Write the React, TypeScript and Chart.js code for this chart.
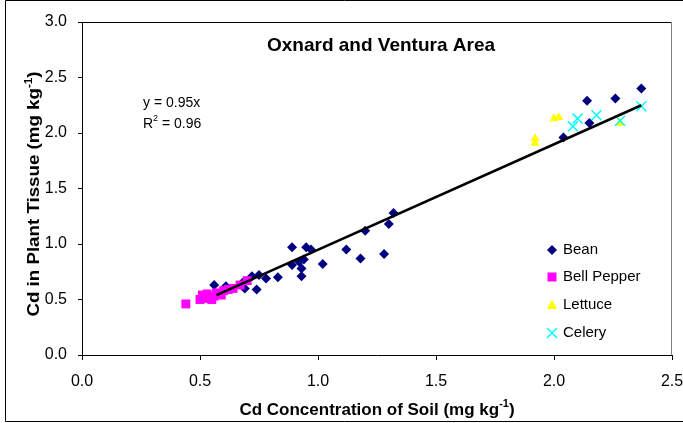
import React, { useEffect, useRef } from 'react';
import { Chart, registerables } from 'chart.js';

Chart.register(...registerables);

// ---- data ----
const beanX = [0.56, 0.61, 0.68, 0.69, 0.72, 0.74, 0.75, 0.78, 0.83, 0.89, 0.89, 0.92, 0.93, 0.93, 0.94, 0.95, 0.97, 1.02, 1.12, 1.18, 1.20, 1.28, 1.30, 1.32, 2.04, 2.14, 2.15, 2.26, 2.37];
const beanY = [0.63, 0.62, 0.65, 0.60, 0.71, 0.59, 0.72, 0.69, 0.70, 0.81, 0.97, 0.84, 0.71, 0.78, 0.86, 0.97, 0.95, 0.82, 0.95, 0.87, 1.12, 0.91, 1.18, 1.28, 1.96, 2.29, 2.09, 2.31, 2.40];

const pepperX = [0.44, 0.50, 0.51, 0.52, 0.53, 0.53, 0.55, 0.56, 0.57, 0.59, 0.60, 0.62, 0.64, 0.67, 0.70];
const pepperY = [0.46, 0.50, 0.54, 0.51, 0.55, 0.52, 0.50, 0.53, 0.56, 0.54, 0.58, 0.59, 0.60, 0.63, 0.67];

const lettuceX = [1.92, 1.92, 2.00, 2.02, 2.28];
const lettuceY = [1.91, 1.95, 2.13, 2.14, 2.09];

const celeryX = [2.08, 2.10, 2.18, 2.28, 2.37];
const celeryY = [2.06, 2.13, 2.16, 2.11, 2.24];

const trendX = [0.57, 2.37];
const trendY = [0.54, 2.25];

const xTickValues = [0, 0.5, 1.0, 1.5, 2.0, 2.5];
const yTickValues = [0, 0.5, 1.0, 1.5, 2.0, 2.5, 3.0];

const seriesNames = ['Bean', 'Bell Pepper', 'Lettuce', 'Celery'];
const chartTitle = 'Oxnard and Ventura Area';
const eqLine = 'y = 0.95x';
const r2Value = '0.96';

const FONT = '"Liberation Sans", Arial, sans-serif';

const pts = (xs: number[], ys: number[]) => xs.map((x, i) => ({ x, y: ys[i] }));

function drawWithSup(ctx: CanvasRenderingContext2D, parts: { t: string; sup?: boolean }[], cx: number, cy: number, size: number, bold: boolean, align: 'center' | 'left', stretch = 1) {
  const w = bold ? 'bold ' : '';
  const supSize = Math.round(size * 0.65);
  const widths = parts.map(p => {
    ctx.font = `${w}${p.sup ? supSize : size}px ${FONT}`;
    return ctx.measureText(p.t).width;
  });
  const total = widths.reduce((a, b) => a + b, 0);
  ctx.save();
  ctx.translate(cx, cy);
  ctx.scale(stretch, 1);
  let x = align === 'center' ? -total / 2 : 0;
  ctx.textBaseline = 'middle';
  ctx.textAlign = 'left';
  ctx.fillStyle = '#000';
  parts.forEach((p, i) => {
    ctx.font = `${w}${p.sup ? supSize : size}px ${FONT}`;
    ctx.fillText(p.t, x, p.sup ? -size * 0.38 : 0);
    x += widths[i];
  });
  ctx.restore();
  return total;
}

const overlay = {
  id: 'overlay',
  afterDraw(chart: any) {
    const ctx: CanvasRenderingContext2D = chart.ctx;
    const { left, right, top, bottom } = chart.chartArea;
    ctx.save();
    // outer border
    ctx.strokeStyle = '#000';
    ctx.lineWidth = 1;
    ctx.beginPath();
    ctx.moveTo(5.5, 421.5);
    ctx.lineTo(5.5, 0.5);
    ctx.lineTo(683, 0.5);
    ctx.moveTo(5.5, 421.5);
    ctx.lineTo(683, 421.5);
    ctx.stroke();
    // plot frame
    ctx.beginPath();
    ctx.moveTo(left, top + 0.5);
    ctx.lineTo(right, top + 0.5);
    ctx.stroke();
    ctx.strokeStyle = '#808080';
    ctx.beginPath();
    ctx.moveTo(right - 0.5, top);
    ctx.lineTo(right - 0.5, bottom);
    ctx.stroke();

    // title
    ctx.fillStyle = '#000';
    ctx.font = `bold 19px ${FONT}`;
    ctx.textAlign = 'center';
    ctx.textBaseline = 'middle';
    ctx.fillText(chartTitle, 381, 46);

    // equation
    ctx.font = `14px ${FONT}`;
    ctx.textAlign = 'left';
    ctx.fillText(eqLine, 143, 103);
    drawWithSup(ctx, [{ t: 'R' }, { t: '2', sup: true }, { t: ' = ' + r2Value }], 143, 124, 14, false, 'left');

    // x axis title
    drawWithSup(ctx, [{ t: 'Cd Concentration of Soil (mg kg' }, { t: '-1', sup: true }, { t: ')' }], 377, 410, 17, true, 'center');

    // y axis title
    ctx.save();
    ctx.translate(35, 194);
    ctx.rotate(-Math.PI / 2);
    drawWithSup(ctx, [{ t: 'Cd in Plant Tissue (mg kg' }, { t: '-1', sup: true }, { t: ')' }], 0, 0, 16, true, 'center', 1.17);
    ctx.restore();

    // legend
    const lx = 552;
    const rows = [250, 277, 305, 333];
    ctx.fillStyle = '#000080';
    ctx.beginPath();
    ctx.moveTo(lx - 5, rows[0]);
    ctx.lineTo(lx, rows[0] - 5);
    ctx.lineTo(lx + 5, rows[0]);
    ctx.lineTo(lx, rows[0] + 5);
    ctx.closePath();
    ctx.fill();
    ctx.fillStyle = '#FF00FF';
    ctx.fillRect(lx - 4.5, rows[1] - 4.5, 9, 9);
    ctx.fillStyle = '#FFFF00';
    ctx.beginPath();
    ctx.moveTo(lx, rows[2] - 5.5);
    ctx.lineTo(lx + 5, rows[2] + 4);
    ctx.lineTo(lx - 5, rows[2] + 4);
    ctx.closePath();
    ctx.fill();
    ctx.strokeStyle = '#00FFFF';
    ctx.lineWidth = 1.5;
    ctx.beginPath();
    ctx.moveTo(lx - 5, rows[3] - 5);
    ctx.lineTo(lx + 5, rows[3] + 5);
    ctx.moveTo(lx + 5, rows[3] - 5);
    ctx.lineTo(lx - 5, rows[3] + 5);
    ctx.stroke();

    ctx.fillStyle = '#000';
    ctx.font = `15px ${FONT}`;
    ctx.textAlign = 'left';
    ctx.textBaseline = 'middle';
    seriesNames.forEach((n, i) => ctx.fillText(n, 563, rows[i]));
    ctx.restore();
  },
};

export default function App() {
  const ref = useRef<HTMLCanvasElement | null>(null);
  useEffect(() => {
    if (!ref.current) return;
    const chart = new Chart(ref.current, {
      type: 'scatter',
      data: {
        datasets: [
          {
            label: 'Trend',
            data: pts(trendX, trendY),
            showLine: true,
            borderColor: '#000',
            borderWidth: 2.5,
            pointRadius: 0,
            fill: false,
            order: 0,
          } as any,
          {
            label: seriesNames[3],
            data: pts(celeryX, celeryY),
            pointStyle: 'crossRot',
            pointRadius: 7,
            borderColor: '#00FFFF',
            backgroundColor: '#00FFFF',
            pointBorderWidth: 1.5,
            order: 1,
          },
          {
            label: seriesNames[2],
            data: pts(lettuceX, lettuceY),
            pointStyle: 'triangle',
            pointRadius: 5.3,
            borderColor: '#FFFF00',
            backgroundColor: '#FFFF00',
            pointBorderWidth: 0,
            order: 2,
          },
          {
            label: seriesNames[1],
            data: pts(pepperX, pepperY),
            pointStyle: 'rect',
            pointRadius: 6.3,
            borderColor: '#FF00FF',
            backgroundColor: '#FF00FF',
            pointBorderWidth: 0,
            order: 3,
          },
          {
            label: seriesNames[0],
            data: pts(beanX, beanY),
            pointStyle: 'rectRot',
            pointRadius: 5,
            borderColor: '#000080',
            backgroundColor: '#000080',
            pointBorderWidth: 0,
            order: 4,
          },
        ],
      },
      options: {
        responsive: false,
        animation: false,
        devicePixelRatio: 1,
        layout: { padding: { top: 22, right: 0, left: 0, bottom: 0 } },
        plugins: {
          legend: { display: false },
          tooltip: { enabled: false },
          title: { display: false },
        },
        scales: {
          x: {
            type: 'linear',
            min: xTickValues[0],
            max: xTickValues[xTickValues.length - 1],
            afterBuildTicks: (s: any) => { s.ticks = xTickValues.map(v => ({ value: v })); },
            ticks: {
              color: '#000',
              font: { family: FONT, size: 16 },
              padding: 12,
              maxRotation: 0,
              autoSkip: false,
              callback: (v: any) => Number(v).toFixed(1),
            },
            grid: { drawOnChartArea: false, color: '#000', tickLength: 5, lineWidth: 1 },
            border: { color: '#000', width: 1 },
            afterFit: (s: any) => { s.height = 68; s.paddingRight = 11; },
          },
          y: {
            type: 'linear',
            min: yTickValues[0],
            max: yTickValues[yTickValues.length - 1],
            afterBuildTicks: (s: any) => { s.ticks = yTickValues.map(v => ({ value: v })); },
            ticks: {
              color: '#000',
              font: { family: FONT, size: 16 },
              padding: 11,
              autoSkip: false,
              callback: (v: any) => Number(v).toFixed(1),
            },
            grid: { drawOnChartArea: false, color: '#000', tickLength: 4, lineWidth: 1 },
            border: { color: '#000', width: 1 },
            afterFit: (s: any) => { s.width = 82; },
          },
        },
      },
      plugins: [overlay],
    });
    return () => chart.destroy();
  }, []);
  return (
    <div style={{ position: 'absolute', left: 0, top: 0, width: 683, height: 423, background: '#fff' }}>
      <canvas ref={ref} width={683} height={423} style={{ display: 'block' }} />
    </div>
  );
}
